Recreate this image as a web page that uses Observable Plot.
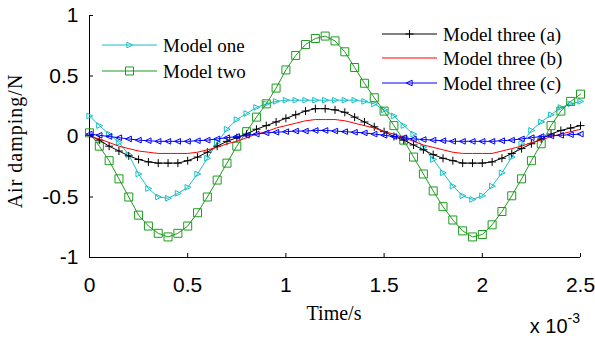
<!DOCTYPE html>
<html><head><meta charset="utf-8">
<script src="https://cdn.jsdelivr.net/npm/d3@7"></script>
<script src="https://cdn.jsdelivr.net/npm/@observablehq/plot@0.6"></script>
<style>html,body{margin:0;padding:0;background:#fff;} #chart{width:595px;height:338px;overflow:hidden}</style>
</head><body><div id="chart"></div>
<script>
// time in units of 1e-3 s
const time = [0,0.05,0.1,0.15,0.2,0.25,0.3,0.35,0.4,0.45,
  0.5,0.55,0.6,0.65,0.7,0.75,0.8,0.85,0.9,0.95,
  1,1.05,1.1,1.15,1.2,1.25,1.3,1.35,1.4,1.45,
  1.5,1.55,1.6,1.65,1.7,1.75,1.8,1.85,1.9,1.95,
  2,2.05,2.1,2.15,2.2,2.25,2.3,2.35,2.4,2.45,2.5];
const modelOne = [0.17,0.09,0.02,-0.05,-0.15,-0.31,-0.43,-0.50,-0.51,-0.47,
  -0.42,-0.31,-0.18,-0.05,0.06,0.14,0.19,0.24,0.27,0.29,
  0.30,0.30,0.30,0.30,0.30,0.30,0.30,0.30,0.29,0.27,
  0.22,0.17,0.09,0.02,-0.09,-0.19,-0.30,-0.41,-0.49,-0.52,
  -0.49,-0.41,-0.30,-0.17,-0.06,0.05,0.12,0.18,0.24,0.27,0.29];
const modelTwo = [0.03,-0.08,-0.20,-0.35,-0.50,-0.65,-0.74,-0.80,-0.83,-0.80,
  -0.74,-0.63,-0.50,-0.36,-0.22,-0.08,0.04,0.16,0.27,0.40,
  0.55,0.67,0.76,0.81,0.83,0.79,0.70,0.57,0.44,0.32,
  0.21,0.09,-0.03,-0.17,-0.31,-0.45,-0.58,-0.69,-0.78,-0.83,
  -0.81,-0.73,-0.62,-0.49,-0.35,-0.20,-0.06,0.09,0.21,0.29,0.35];
const modelThreeA = [0.01,-0.03,-0.08,-0.12,-0.16,-0.19,-0.21,-0.22,-0.22,-0.22,
  -0.20,-0.17,-0.13,-0.08,-0.04,-0.01,0.02,0.06,0.09,0.12,
  0.15,0.18,0.21,0.23,0.23,0.22,0.20,0.16,0.12,0.08,
  0.04,0.00,-0.03,-0.07,-0.11,-0.15,-0.18,-0.20,-0.22,-0.22,
  -0.22,-0.21,-0.18,-0.14,-0.10,-0.06,-0.02,0.02,0.05,0.07,0.09];
const modelThreeB = [0.00,-0.02,-0.05,-0.08,-0.10,-0.12,-0.13,-0.14,-0.14,-0.14,
  -0.14,-0.13,-0.11,-0.09,-0.06,-0.04,-0.01,0.02,0.04,0.07,
  0.09,0.11,0.13,0.14,0.14,0.14,0.13,0.11,0.09,0.07,
  0.04,0.02,-0.01,-0.04,-0.07,-0.09,-0.11,-0.13,-0.14,-0.14,
  -0.14,-0.14,-0.12,-0.10,-0.08,-0.05,-0.03,0.00,0.02,0.04,0.06];
const modelThreeC = [0.02,0.01,0.00,-0.01,-0.02,-0.03,-0.035,-0.04,-0.04,-0.04,
  -0.04,-0.035,-0.03,-0.02,-0.01,0.00,0.01,0.02,0.03,0.035,
  0.04,0.045,0.045,0.05,0.05,0.045,0.04,0.035,0.03,0.02,
  0.01,0.00,-0.01,-0.02,-0.025,-0.03,-0.035,-0.04,-0.04,-0.04,
  -0.04,-0.04,-0.035,-0.03,-0.02,-0.01,0.00,0.005,0.01,0.015,0.02];

const seriesNames = ["Model one","Model two","Model three (a)","Model three (b)","Model three (c)"];
const seriesColors = ["#19c0c8","#1e9b1e","#000000","#ff0000","#0000ff"];
const seriesValues = [modelOne, modelTwo, modelThreeA, modelThreeB, modelThreeC];
const xTicks = [0,0.5,1,1.5,2,2.5];
const yTicks = [-1,-0.5,0,0.5,1];

// marker shapes
const symTriRight = {draw(c, s){const r=Math.sqrt(s/Math.PI); c.moveTo(r,0); c.lineTo(-r*0.8,-r*0.85); c.lineTo(-r*0.8,r*0.85); c.closePath();}};
const symTriLeft = {draw(c, s){const r=Math.sqrt(s/Math.PI); c.moveTo(-r,0); c.lineTo(r*0.8,-r*0.85); c.lineTo(r*0.8,r*0.85); c.closePath();}};
const symSquare = {draw(c, s){const r=Math.sqrt(s/Math.PI); c.rect(-r,-r,2*r,2*r);}};
const symPlus = {draw(c, s){const r=Math.sqrt(s/Math.PI); c.moveTo(-r,0); c.lineTo(r,0); c.moveTo(0,-r); c.lineTo(0,r);}};
const seriesSymbols = [symTriRight, symSquare, symPlus, null, symTriLeft];
const seriesR = [3.3, 4, 4, 0, 3.3];

const rows = [];
seriesNames.forEach((name, i) => seriesValues[i].forEach((v, j) => rows.push({name, t: time[j], v})));

const marks = [
  Plot.axisX(xTicks, {tickSize: -4, tickPadding: 24, tickFormat: d => String(d), label: null, fontSize: 21}),
  Plot.axisY(yTicks, {tickSize: -4, tickPadding: 15, tickFormat: d => String(d), label: null, fontSize: 21}),
  Plot.ruleX([0], {stroke: "#000"}),
  Plot.ruleY([-1], {stroke: "#000"})
];
seriesNames.forEach((name, i) => {
  const d = rows.filter(r => r.name === name);
  marks.push(Plot.line(d, {x: "t", y: "v", stroke: seriesColors[i], strokeWidth: 1}));
  if (seriesSymbols[i]) marks.push(Plot.dot(d, {x: "t", y: "v", stroke: seriesColors[i], fill: "none", strokeWidth: 1, r: seriesR[i], symbol: seriesSymbols[i]}));
});

const chart = Plot.plot({
  width: 595, height: 338,
  marginLeft: 89, marginRight: 15, marginTop: 15, marginBottom: 81,
  style: {fontFamily: "'Liberation Sans', Arial, sans-serif", fontSize: "21px", background: "#fff", color: "#000"},
  x: {domain: [0, 2.5], label: null, axis: null},
  y: {domain: [-1, 1], label: null, axis: null},
  marks
});
document.getElementById("chart").appendChild(chart);

const svg = d3.select(chart);
const serif = "'Liberation Serif','Times New Roman',serif";
function symbolPath(sym, r) { const p = d3.path(); sym.draw(p, Math.PI * r * r); return p.toString(); }
const legend = [
  {i: 0, x0: 102, y: 45}, {i: 1, x0: 102, y: 71},
  {i: 2, x0: 382, y: 34}, {i: 3, x0: 382, y: 58}, {i: 4, x0: 382, y: 83}
];
const lg = svg.append("g").attr("font-family", serif).attr("font-size", 19).attr("text-anchor", "start");
legend.forEach(({i, x0, y}) => {
  lg.append("line").attr("x1", x0).attr("x2", x0 + 55).attr("y1", y).attr("y2", y).attr("stroke", seriesColors[i]);
  if (seriesSymbols[i]) lg.append("path").attr("d", symbolPath(seriesSymbols[i], seriesR[i])).attr("transform", `translate(${x0 + 27.5},${y})`).attr("fill", "none").attr("stroke", seriesColors[i]);
  lg.append("text").attr("x", x0 + 61).attr("y", y).attr("dy", "0.35em").attr("text-anchor", "start").attr("fill", "#000").text(seriesNames[i]);
});
svg.append("text").attr("transform", "translate(22,141) rotate(-90)").attr("text-anchor", "middle")
  .attr("font-family", serif).attr("font-size", 20).attr("letter-spacing", 1).attr("fill", "#000").text("Air damping/N");
svg.append("text").attr("x", 334).attr("y", 320).attr("text-anchor", "middle")
  .attr("font-family", serif).attr("font-size", 20).attr("fill", "#000").text("Time/s");
const ex = svg.append("text").attr("x", 580).attr("y", 333).attr("text-anchor", "end")
  .attr("font-family", "'Liberation Sans', Arial, sans-serif").attr("font-size", 20).attr("fill", "#000");
ex.append("tspan").text("x 10");
ex.append("tspan").attr("dy", -10).attr("font-size", 14).text("-3");
</script></body></html>
